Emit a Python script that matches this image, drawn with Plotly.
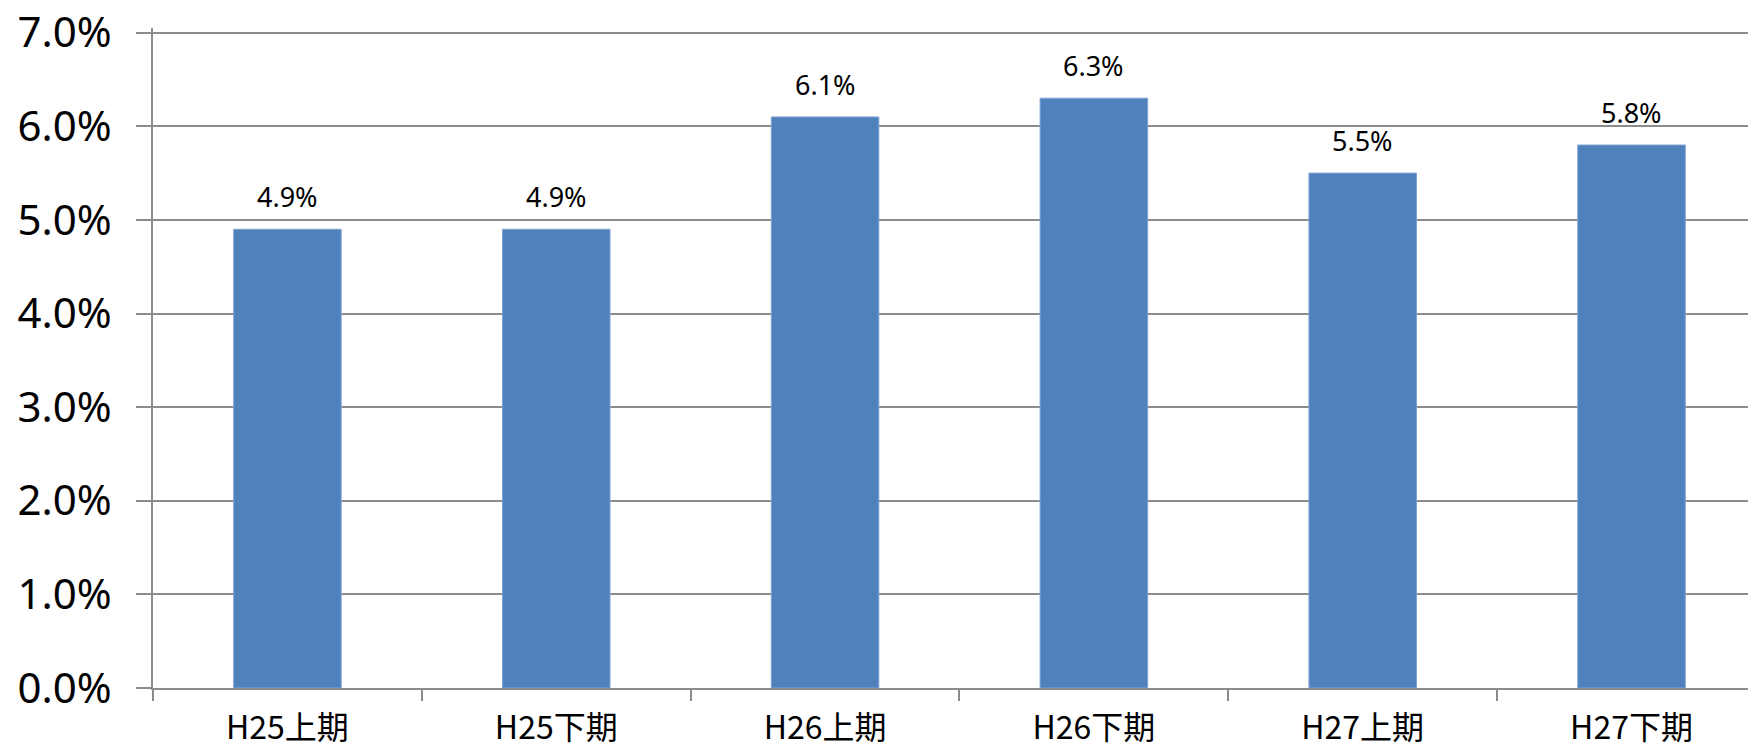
import plotly.graph_objects as go

categories = ["H25上期", "H25下期", "H26上期", "H26下期", "H27上期", "H27下期"]
values = [4.9, 4.9, 6.1, 6.3, 5.5, 5.8]
y_ticks = [0, 1, 2, 3, 4, 5, 6, 7]
y_tick_labels = [f"{t:.1f}%" for t in y_ticks]

fig = go.Figure()
fig.add_trace(go.Bar(
    x=categories, y=values,
    marker=dict(color="#4f81bd", line=dict(color="#7fa3d3", width=1)),
    hoverinfo="skip",
))
for c, v in zip(categories, values):
    fig.add_annotation(x=c, y=v, text=f"{v:.1f}%", showarrow=False,
                       yanchor="bottom", yshift=12,
                       font=dict(family="Noto Sans", size=27, color="#000000"))

fig.update_layout(
    width=1748, height=737,
    margin=dict(l=145, r=0, t=20, b=57),
    paper_bgcolor="white", plot_bgcolor="white",
    bargap=0.6, showlegend=False,
)
fig.update_xaxes(
    type="category", range=[-0.5, 5.463], automargin=False,
    showline=True, linecolor="#8c8c8c", linewidth=2,
    ticks="outside", tickson="boundaries", ticklen=11, tickcolor="#8c8c8c", tickwidth=2,
    tickfont=dict(family="Noto Sans CJK JP", size=32, color="#000000"),
    ticklabelstandoff=11,
    showgrid=False,
)
fig.update_yaxes(
    range=[0, 7.05], tickvals=y_ticks, ticktext=y_tick_labels, automargin=False,
    showline=True, linecolor="#8c8c8c", linewidth=2,
    ticks="outside", ticklen=15, tickcolor="#8c8c8c", tickwidth=2,
    showgrid=True, gridcolor="#8c8c8c", gridwidth=2,
    zeroline=False,
    tickfont=dict(family="Noto Sans", size=42, color="#000000"),
    ticklabelstandoff=16, ticklabeloverflow="allow",
)
fig.write_html("out.html")
